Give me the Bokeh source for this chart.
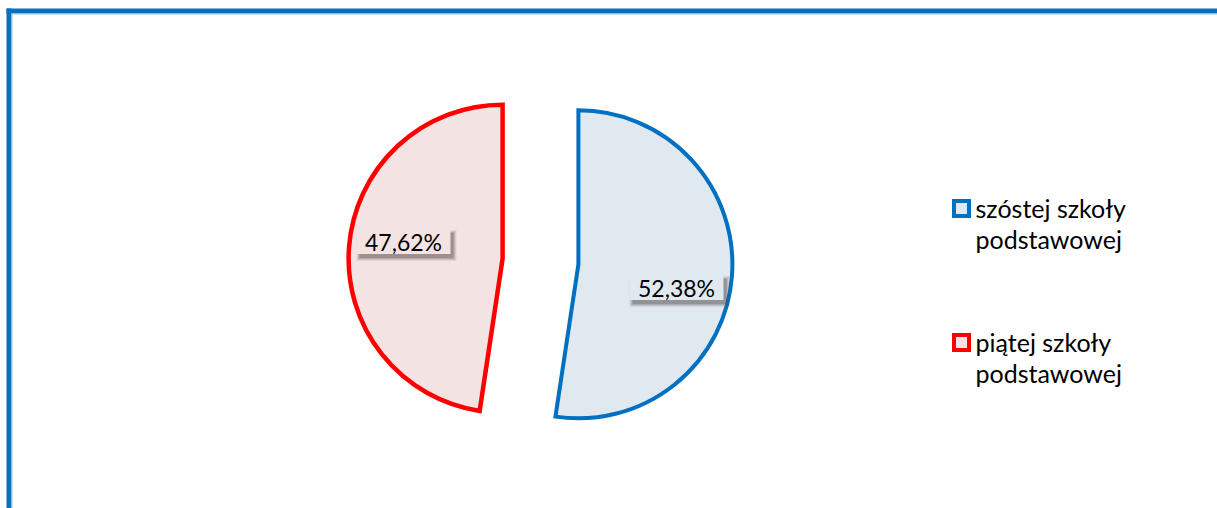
import math
from bokeh.plotting import figure
from bokeh.models import Range1d, ColumnDataSource
from bokeh.core.properties import value
from bokeh.embed import file_html
from bokeh.resources import INLINE

# ---- data ----
categories = ["szóstej szkoły podstawowej", "piątej szkoły podstawowej"]
percents = [52.38, 47.62]
line_colors = ["#0070C0", "#FF0000"]
fill_colors = ["#E0E8F0", "#F4E3E3"]

# ---- layout (picture pixel coordinates) ----
W, H = 1217, 508
FONT = "Lato"

def Y(yp):
    return H - yp

p = figure(width=W, height=H, x_range=Range1d(0, W), y_range=Range1d(0, H),
           output_backend="svg", toolbar_location=None, x_axis_type=None, y_axis_type=None,
           min_border=0, background_fill_color="white", border_fill_color="white")
p.outline_line_color = None
p.grid.visible = False

# frame (top + left edges visible)
p.quad(left=[6, 6], right=[W, 11], top=[Y(8), Y(8)], bottom=[Y(13), 0],
       fill_color="#0070C0", line_color=None)
p.quad(left=[11, 11], right=[W, 12], top=[Y(13), Y(13)], bottom=[Y(14), 0],
       fill_color="#9CC3E5", line_color=None)

# ---- exploded pie ----
base_x, base_y = 540, Y(261)
radius = 154
explode = 38
starts, ends, cxs, cys = [], [], [], []
cum = 0.0
for v in percents:
    s = math.radians(90 - 360 * cum / 100)
    e = math.radians(90 - 360 * (cum + v) / 100)
    mid = (s + e) / 2
    starts.append(s)
    ends.append(e)
    cxs.append(base_x + explode * math.cos(mid))
    cys.append(base_y + explode * math.sin(mid))
    cum += v

src = ColumnDataSource(dict(x=cxs, y=cys, s=starts, e=ends, fc=fill_colors, lc=line_colors,
                            lw=[4, 4.5]))
p.wedge(x="x", y="y", radius=radius, start_angle="s", end_angle="e", direction="clock",
        fill_color="fc", line_color="lc", line_width="lw", line_join="miter", source=src)

# ---- data labels with shadowed boxes ----
label_pos = [(676, 287), (403, 241)]
hw, hh = 47, 12.5
for (lx, ly), v, fc in zip(label_pos, percents, fill_colors):
    for g, a in [(3, 0.10), (2, 0.15), (1, 0.20), (0, 0.28)]:
        p.quad(left=[lx - hw + 3 - g], right=[lx + hw + 3 + g],
               top=[Y(ly - hh + 4 - g)], bottom=[Y(ly + hh + 4 + g)],
               fill_color="#5A4E4E", fill_alpha=a, line_color=None)
    p.quad(left=[lx - hw], right=[lx + hw], top=[Y(ly - hh)], bottom=[Y(ly + hh)],
           fill_color=fc, line_color=None)
    p.text(x=[lx], y=[Y(ly)], text=[f"{v:.2f}%".replace(".", ",")],
           text_align="center", text_baseline="middle", text_font=value(FONT),
           text_font_size="23px", text_color="#000000")

# ---- legend ----
leg_y = [208, 342]
for cat, lc, fc, ly in zip(categories, line_colors, fill_colors, leg_y):
    p.quad(left=[953.5], right=[968.5], top=[Y(ly - 7.5)], bottom=[Y(ly + 7.5)],
           fill_color=fc, line_color=lc, line_width=4, line_join="miter")
    first, second = cat.rsplit(" ", 1)
    p.text(x=[975, 975], y=[Y(ly - 1), Y(ly + 30)], text=[first, second],
           text_align="left", text_baseline="middle", text_font=value(FONT),
           text_font_size="25px", text_color="#000000")

open("out.html", "w").write(file_html(p, INLINE))
